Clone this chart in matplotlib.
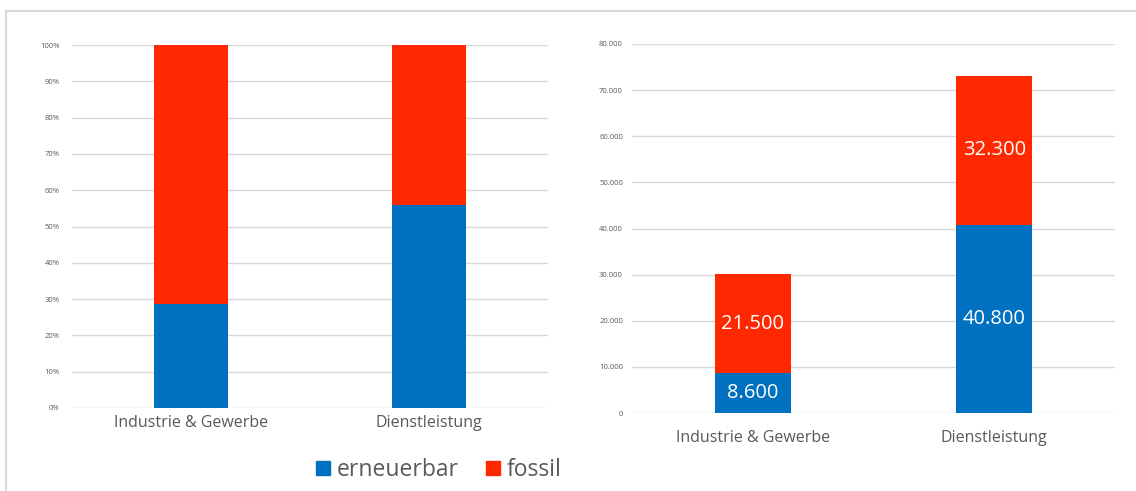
import matplotlib.pyplot as plt
from matplotlib.lines import Line2D
from matplotlib.patches import Patch
import numpy as np

plt.rcParams['font.family'] = ['Open Sans', 'DejaVu Sans']

sectors = ['Industrie & Gewerbe', 'Dienstleistung']
erneuerbar = [8600, 40800]
fossil = [21500, 32300]

pct_ticks = [0, 10, 20, 30, 40, 50, 60, 70, 80, 90, 100]
abs_ticks = [0, 10000, 20000, 30000, 40000, 50000, 60000, 70000, 80000]

blue = '#0070C0'
red = '#FF2800'
grid = '#D9D9D9'
txt = '#595959'

W, H = 1136, 491
fig = plt.figure(figsize=(W / 100, H / 100), dpi=100)

# axes placed in pixel coordinates
def add_ax(x0, x1, ytop, ybot):
    return fig.add_axes([x0 / W, 1 - ybot / H, (x1 - x0) / W, (ybot - ytop) / H])

ax1 = add_ax(72, 548, 45, 408)
ax2 = add_ax(632, 1115, 44, 413)

x = np.array([0.5, 1.5])
bw = 0.315

tot = np.array(erneuerbar) + np.array(fossil)
share_e = np.array(erneuerbar) / tot * 100
share_f = np.array(fossil) / tot * 100

ax1.bar(x, share_e, bw, color=blue, zorder=3)
ax1.bar(x, share_f, bw, bottom=share_e, color=red, zorder=3)
ax1.set_ylim(0, 100)
ax1.set_yticks(pct_ticks)
ax1.set_yticklabels([f'{t}%' for t in pct_ticks])

ax2.bar(x, erneuerbar, bw, color=blue, zorder=3)
ax2.bar(x, fossil, bw, bottom=erneuerbar, color=red, zorder=3)
ax2.set_ylim(0, 80000)
ax2.set_yticks(abs_ticks)
ax2.set_yticklabels([f'{t:,}'.replace(',', '.') for t in abs_ticks])

fmt = lambda v: f'{v:,}'.replace(',', '.')
for i in range(2):
    ax2.text(x[i], erneuerbar[i] / 2, fmt(erneuerbar[i]), ha='center', va='center',
             color='white', fontsize=14.5, zorder=4)
    ax2.text(x[i], erneuerbar[i] + fossil[i] / 2, fmt(fossil[i]), ha='center', va='center',
             color='white', fontsize=14.5, zorder=4)

for ax in (ax1, ax2):
    ax.set_xlim(0, 2)
    ax.set_xticks(x)
    ax.set_xticklabels(sectors, fontsize=11.5, color=txt)
    ax.tick_params(axis='y', labelsize=5.5, colors=txt, length=0)
    ax.tick_params(axis='x', length=0)
    ax.grid(axis='y', color=grid, linewidth=1, zorder=0)
    for s in ax.spines.values():
        s.set_visible(False)

ax1.tick_params(axis='y', pad=9)
ax1.tick_params(axis='x', pad=5)
ax2.tick_params(axis='y', pad=6.5)
ax2.tick_params(axis='x', pad=12)

handles = [Patch(color=blue, label='erneuerbar'), Patch(color=red, label='fossil')]
fig.legend(handles=handles, loc='center', bbox_to_anchor=(439 / W, 1 - 470 / H), ncol=2,
           frameon=False, fontsize=16.5, labelcolor=txt, handlelength=0.6, handleheight=0.6,
           handletextpad=0.3, columnspacing=1.2)

# outer frame
fig.add_artist(Line2D([6 / W, 1], [1 - 11 / H, 1 - 11 / H], color='#D9D9D9', linewidth=1.5))
fig.add_artist(Line2D([6 / W, 6 / W], [0, 1 - 11 / H], color='#D9D9D9', linewidth=1.5))

fig.savefig('out.png', dpi=100, facecolor='white')
